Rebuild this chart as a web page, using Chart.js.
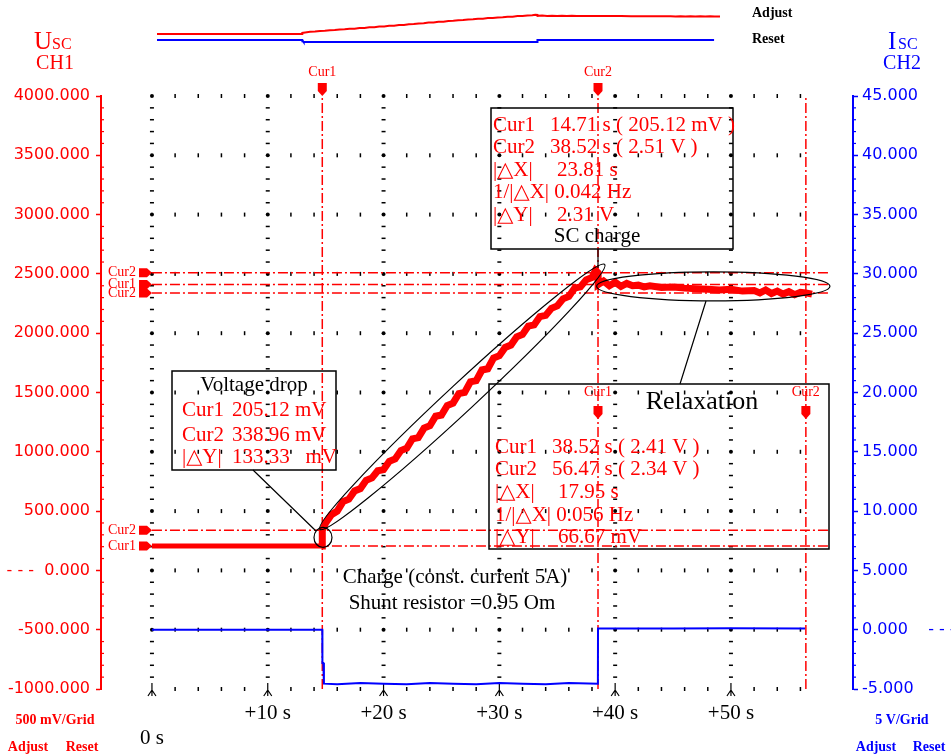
<!DOCTYPE html>
<html>
<head>
<meta charset="utf-8">
<script src="https://cdn.jsdelivr.net/npm/chart.js@4.4.1/dist/chart.umd.min.js"></script>
<style>
  html, body { margin: 0; padding: 0; background: #fff; }
  #wrap { position: relative; width: 951px; height: 755px; }
  #scope { position: absolute; left: 0; top: 0; }
  #overview { position: absolute; left: 157px; top: 10px; }
</style>
</head>
<body>
<div id="wrap">
  <canvas id="scope" width="951" height="755"></canvas>
  <canvas id="overview" width="563" height="36"></canvas>
</div>
<script>
// CH1: supercapacitor voltage Usc, mV
const usTime = [0, 14.70, 14.71, 15.0, 15.5, 16.0, 16.5, 17.0, 17.5, 18.0, 18.5, 19.0, 19.5,
  20.0, 20.5, 21.0, 21.5, 22.0, 22.5, 23.0, 23.5, 24.0, 24.5, 25.0, 25.5, 26.0, 26.5,
  27.0, 27.5, 28.0, 28.5, 29.0, 29.5, 30.0, 30.5, 31.0, 31.5, 32.0, 32.5, 33.0, 33.5,
  34.0, 34.5, 35.0, 35.5, 36.0, 36.5, 37.0, 37.5, 38.0, 38.3, 38.52, 38.53,
  39.0, 39.5, 40.0, 40.5, 41.0, 41.5, 42.0, 42.5, 43.0, 44.0, 45.0, 46.0, 47.0, 48.0,
  49.0, 50.0, 51.0, 52.0, 52.5, 53.0, 53.5, 54.0, 54.5, 55.0, 55.5, 56.0, 56.47, 57.0];
const usValue = [205, 205, 339, 400, 470, 500, 580, 600, 670, 690, 760, 780, 840,
  850, 920, 940, 1010, 1030, 1110, 1120, 1200, 1220, 1300, 1310, 1390, 1410, 1490,
  1500, 1590, 1600, 1690, 1700, 1790, 1810, 1880, 1900, 1970, 1990, 2060, 2070, 2140,
  2150, 2210, 2230, 2290, 2310, 2380, 2390, 2450, 2470, 2530, 2510, 2410,
  2440, 2400, 2430, 2395, 2420, 2400, 2405, 2390, 2400, 2385, 2390, 2380, 2375, 2370,
  2365, 2370, 2355, 2360, 2340, 2365, 2335, 2355, 2330, 2350, 2325, 2345, 2340, 2330];

// CH2: charge current Isc
const isTime = [0, 14.71, 14.72, 14.80, 14.85, 16.0, 18.0, 20.0, 22.0, 24.0, 26.0, 28.0,
  30.0, 32.0, 34.0, 36.0, 38.51, 38.52, 45.0, 50.0, 56.4];
const isValue = [0, 0, -2.8, -2.8, -4.55, -4.6, -4.5, -4.55, -4.6, -4.5, -4.55, -4.6,
  -4.5, -4.55, -4.6, -4.5, -4.55, 0.1, 0.1, 0.12, 0.1];

// time axis labels (s)
const xTicks = [0, 10, 20, 30, 40, 50];

// measurement cursors
const cursorTimes = [14.71, 38.52, 56.47];
const cursorLevels = [2510, 2410, 2340, 338.96, 205.12];
const cursorLevelNames = ['Cur2', 'Cur1', 'Cur2', 'Cur2', 'Cur1'];

const SERIF = '"Liberation Serif", "DejaVu Serif", serif';
const SANS = '"DejaVu Sans", sans-serif';
const RED = '#ff0000';
const BLUE = '#0000ff';
const DASH_DOT = [10, 3, 2, 3];

const toXY = (ts, vs) => ts.map((t, i) => ({ x: t, y: vs[i] }));

function flagDown(ctx, x, top) {
    ctx.beginPath();
    ctx.moveTo(x - 4.5, top);
    ctx.lineTo(x + 4.5, top);
    ctx.lineTo(x + 4.5, top + 8);
    ctx.lineTo(x, top + 13);
    ctx.lineTo(x - 4.5, top + 8);
    ctx.closePath();
    ctx.fill();
}

function flagRight(ctx, left, y) {
    ctx.beginPath();
    ctx.moveTo(left, y - 4.5);
    ctx.lineTo(left + 8, y - 4.5);
    ctx.lineTo(left + 13, y);
    ctx.lineTo(left + 8, y + 4.5);
    ctx.lineTo(left, y + 4.5);
    ctx.closePath();
    ctx.fill();
}

function ellipseBetween(ctx, a, b, minor) {
    const cx = (a.x + b.x) / 2, cy = (a.y + b.y) / 2;
    const half = Math.hypot(b.x - a.x, b.y - a.y) / 2;
    ctx.beginPath();
    ctx.ellipse(cx, cy, half, minor, Math.atan2(b.y - a.y, b.x - a.x), 0, Math.PI * 2);
    ctx.stroke();
}

function textRows(ctx, rows, x0, x1, ys) {
    rows.forEach((r, i) => {
        ctx.fillText(r[0], x0, ys[i]);
        if (r[1]) ctx.fillText(r[1], r[2] || x1, ys[i]);
    });
}

// oscilloscope dotted graticule, axis minor ticks, cursor flags and notes
const scopeDecor = {
    id: 'scopeDecor',
    beforeDraw(chart) {
        const ctx = chart.ctx;
        ctx.save();
        ctx.fillStyle = '#fff';
        ctx.fillRect(0, 0, chart.width, chart.height);
        ctx.restore();
    },
    beforeDatasetsDraw(chart) {
        const { ctx, scales: { x, yU, yI } } = chart;
        ctx.save();
        ctx.fillStyle = '#000';
        ctx.strokeStyle = '#000';
        ctx.lineWidth = 1.2;
        // horizontal graticule rows
        for (let v = -1000; v <= 4000; v += 500) {
            const y = yU.getPixelForValue(v);
            for (let t = 0; t <= 56; t += 2) {
                const px = x.getPixelForValue(t);
                if (t % 10 === 0) {
                    if (v === -1000) {
                        ctx.beginPath();
                        ctx.moveTo(px, y - 6);
                        ctx.lineTo(px, y + 7);
                        ctx.moveTo(px - 4, y + 7);
                        ctx.lineTo(px, y + 1);
                        ctx.lineTo(px + 4, y + 7);
                        ctx.stroke();
                    } else {
                        ctx.beginPath();
                        ctx.arc(px, y, 2, 0, Math.PI * 2);
                        ctx.fill();
                    }
                } else {
                    ctx.fillRect(px - 0.75, y - 2, 1.5, 4);
                }
            }
        }
        // vertical graticule columns
        xTicks.forEach(t => {
            const px = x.getPixelForValue(t);
            for (let v = -900; v < 4000; v += 100) {
                if (v % 500 === 0) continue;
                ctx.fillRect(px - 2, yU.getPixelForValue(v) - 0.75, 4, 1.5);
            }
        });
        // minor ticks on both channel axes
        ctx.fillStyle = RED;
        for (let v = -900; v < 4000; v += 100) {
            if (v % 500 === 0) continue;
            ctx.fillRect(yU.right, yU.getPixelForValue(v) - 0.6, 3, 1.2);
        }
        ctx.fillStyle = BLUE;
        for (let v = -4; v < 45; v += 1) {
            if (v % 5 === 0) continue;
            ctx.fillRect(yI.left, yI.getPixelForValue(v) - 0.6, 3, 1.2);
        }
        ctx.restore();
    },
    afterDatasetsDraw(chart) {
        const { ctx, scales: { x, yU } } = chart;
        const pt = (t, v) => ({ x: x.getPixelForValue(t), y: yU.getPixelForValue(v) });
        ctx.save();

        // cursor flags: [name, time, flag top, label centre]
        ctx.fillStyle = RED;
        ctx.font = '14px ' + SERIF;
        ctx.textAlign = 'center';
        ctx.textBaseline = 'middle';
        const top = yU.getPixelForValue(4000);
        [['Cur1', cursorTimes[0], top - 13, 72], ['Cur2', cursorTimes[1], top - 13, 72],
         ['Cur1', cursorTimes[1], 406, 392], ['Cur2', cursorTimes[2], 406, 392]].forEach(([name, t, y, ly]) => {
            const px = x.getPixelForValue(t);
            ctx.fillText(name, px, ly);
            flagDown(ctx, px, y);
        });
        ctx.textAlign = 'right';
        cursorLevels.forEach((v, i) => {
            const py = yU.getPixelForValue(v);
            ctx.fillText(cursorLevelNames[i], 136, py);
            flagRight(ctx, 139, py);
        });

        // boxes, ellipses and leader lines
        ctx.strokeStyle = '#000';
        ctx.lineWidth = 1.5;
        ctx.strokeRect(491, 108, 242, 141);
        ctx.strokeRect(172, 371, 164, 99);
        ctx.strokeRect(489, 384, 340, 165);
        ctx.lineWidth = 1.2;
        ellipseBetween(ctx, pt(14.5, 346), pt(39.1, 2580), 14);
        ellipseBetween(ctx, pt(38.4, 2395), pt(58.55, 2395), 14.5);
        const c = pt(14.77, 278);
        ctx.beginPath();
        ctx.ellipse(c.x, c.y, 9, 10, 0, 0, Math.PI * 2);
        ctx.stroke();
        ctx.beginPath();
        ctx.moveTo(253, 470); ctx.lineTo(316, 531);
        ctx.moveTo(598, 249); ctx.lineTo(598, 268);
        ctx.moveTo(680, 384); ctx.lineTo(706, 301);
        ctx.stroke();

        // cursor readouts
        ctx.textAlign = 'left';
        ctx.font = '21px ' + SERIF;
        ctx.fillStyle = RED;
        textRows(ctx, [
            ['Cur1', '14.71 s ( 205.12 mV )'],
            ['Cur2', '38.52 s ( 2.51 V )'],
            ['|\u25B3X|', '23.81 s', 557],
            ['1/|\u25B3X| 0.042 Hz'],
            ['|\u25B3Y|', '2.31 V', 557]
        ], 493, 550, [125, 147, 170, 192, 215]);
        textRows(ctx, [
            ['Cur1', '205.12 mV'],
            ['Cur2', '338.96 mV'],
            ['|\u25B3Y|', '133.33   mV']
        ], 182, 232, [410, 435, 457]);
        textRows(ctx, [
            ['Cur1', '38.52 s ( 2.41 V )'],
            ['Cur2', '56.47 s ( 2.34 V )'],
            ['|\u25B3X|', '17.95 s', 558],
            ['1/|\u25B3X| 0.056 Hz'],
            ['|\u25B3Y|', '66.67 mV', 558]
        ], 495, 552, [447, 469, 492, 515, 537]);

        ctx.fillStyle = '#000';
        ctx.textAlign = 'center';
        ctx.fillText('SC charge', 597, 236);
        ctx.fillText('Voltage drop', 254, 385);
        ctx.fillText('Charge (const. current 5A)', 455, 577);
        ctx.fillText('Shunt resistor =0.95 Om', 452, 603);
        ctx.font = '26px ' + SERIF;
        ctx.fillText('Relaxation', 702, 402);
        ctx.restore();
    },
    afterDraw(chart) {
        const ctx = chart.ctx;
        ctx.save();
        ctx.textBaseline = 'alphabetic';
        // channel titles
        ctx.fillStyle = RED;
        ctx.font = '25px ' + SERIF;
        ctx.textAlign = 'left';
        ctx.fillText('U', 34, 49);
        ctx.font = '16px ' + SERIF;
        ctx.fillText('SC', 52, 49);
        ctx.font = '20px ' + SERIF;
        ctx.textAlign = 'center';
        ctx.fillText('CH1', 55, 69);
        ctx.fillStyle = BLUE;
        ctx.font = '25px ' + SERIF;
        ctx.textAlign = 'left';
        ctx.fillText('I', 888, 49);
        ctx.font = '16px ' + SERIF;
        ctx.fillText('SC', 898, 49);
        ctx.font = '20px ' + SERIF;
        ctx.textAlign = 'center';
        ctx.fillText('CH2', 902, 69);

        // scale settings
        ctx.font = 'bold 14px ' + SERIF;
        ctx.fillStyle = RED;
        ctx.fillText('500 mV/Grid', 55, 724);
        ctx.fillText('Adjust', 28, 751);
        ctx.fillText('Reset', 82, 751);
        ctx.fillStyle = BLUE;
        ctx.fillText('5 V/Grid', 902, 724);
        ctx.fillText('Adjust', 876, 751);
        ctx.fillText('Reset', 929, 751);

        // overview strip legend
        ctx.fillStyle = '#000';
        ctx.textAlign = 'left';
        ctx.fillText('Adjust', 752, 17);
        ctx.fillText('Reset', 752, 43);
        ctx.restore();
    }
};

const traceSets = () => [
    {
        label: 'Usc',
        data: toXY(usTime, usValue),
        yAxisID: 'yU',
        borderColor: RED,
        borderWidth: 7,
        borderJoinStyle: 'miter',
        // the idle level before charging is a thinner trace
        segment: { borderWidth: s => s.p1.parsed.x <= 14.7 ? 5 : undefined },
        pointRadius: 0
    },
    {
        label: 'Isc',
        data: toXY(isTime, isValue),
        yAxisID: 'yI',
        borderColor: BLUE,
        borderWidth: 2,
        pointRadius: 0
    }
];

const cursorSets = [
    ...cursorTimes.map(t => ({ data: [{ x: t, y: -1000 }, { x: t, y: 4000 }] })),
    ...cursorLevels.map(v => ({ data: [{ x: 0, y: v }, { x: 58.5, y: v }] }))
].map(d => Object.assign(d, {
    yAxisID: 'yU',
    borderColor: RED,
    borderWidth: 1.5,
    borderDash: DASH_DOT,
    pointRadius: 0
}));

new Chart(document.getElementById('scope'), {
    type: 'line',
    data: { datasets: [...traceSets(), ...cursorSets] },
    options: {
        responsive: false,
        devicePixelRatio: 1,
        animation: false,
        events: [],
        layout: { padding: { top: 96, left: 0, right: 0, bottom: 0 } },
        plugins: { legend: { display: false }, tooltip: { enabled: false } },
        scales: {
            x: {
                type: 'linear',
                min: -4.4,
                max: 60.54,
                afterFit: s => { s.height = 66; },
                afterBuildTicks: s => { s.ticks = xTicks.map(v => ({ value: v })); },
                grid: { display: false, drawTicks: false },
                border: { display: false },
                ticks: {
                    autoSkip: false,
                    maxRotation: 0,
                    padding: 12,
                    color: '#000',
                    font: { family: SERIF, size: 21 },
                    callback: v => v === 0 ? ['', '0 s'] : '+' + v + ' s'
                }
            },
            yU: {
                position: 'left',
                min: -1000,
                max: 4000,
                afterFit: s => { s.width = 101; },
                grid: { drawOnChartArea: false, color: RED, tickLength: 5, tickWidth: 1.5 },
                border: { color: RED, width: 2 },
                ticks: {
                    stepSize: 500,
                    padding: 6,
                    color: RED,
                    font: { family: SANS, size: 16 },
                    callback: v => v === 0 ? '- - -  0.000' : v.toFixed(3)
                }
            },
            yI: {
                position: 'right',
                min: -5,
                max: 45,
                afterFit: s => { s.width = 98; },
                grid: { drawOnChartArea: false, color: BLUE, tickLength: 5, tickWidth: 1.5 },
                border: { color: BLUE, width: 2 },
                ticks: {
                    stepSize: 5,
                    padding: 4,
                    color: BLUE,
                    font: { family: SANS, size: 16 },
                    callback: v => v === 0 ? '0.000    - - -' : v.toFixed(3)
                }
            }
        }
    },
    plugins: [scopeDecor]
});

// compressed view of the whole record above the screen
new Chart(document.getElementById('overview'), {
    type: 'line',
    data: { datasets: traceSets().map(d => Object.assign(d, { borderWidth: 2, segment: {} })) },
    options: {
        responsive: false,
        devicePixelRatio: 1,
        animation: false,
        events: [],
        layout: { padding: 0 },
        plugins: { legend: { display: false }, tooltip: { enabled: false } },
        scales: {
            x: { type: 'linear', display: false, min: 0, max: 57 },
            yU: { display: false, min: -1251, max: 3117 },
            yI: { display: false, min: -13.5, max: 67.5 }
        }
    }
});
</script>
</body>
</html>
